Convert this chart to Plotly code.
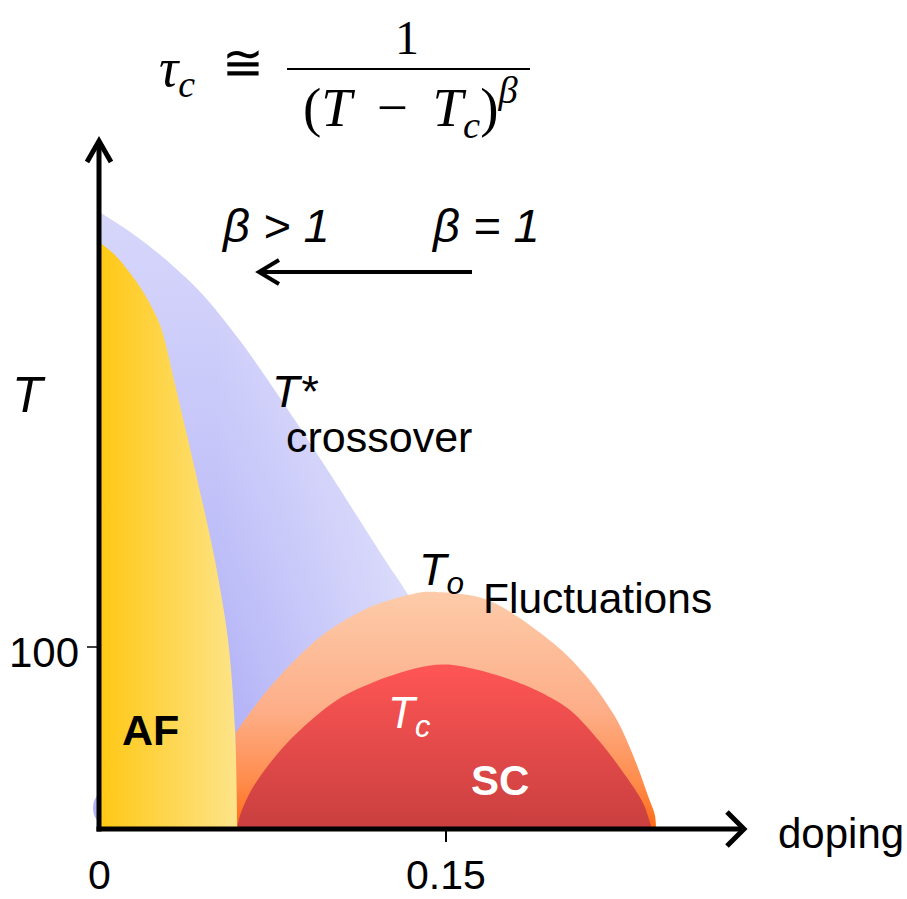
import plotly.graph_objects as go

# ---------------- data (doping, temperature) ----------------
af_doping = [0, 0.0069, 0.0134, 0.0199, 0.0264, 0.0329, 0.0415, 0.0501, 0.0558, 0.0588, 0.0597]
af_T = [322.5, 315.4, 305.5, 293.4, 276.9, 244.0, 197.3, 147.8, 103.8, 54.4, 0]

tstar_doping = [0, 0.0134, 0.0264, 0.0437, 0.0610, 0.0782, 0.0999, 0.1228, 0.1331, 0.1474, 0.1517]
tstar_T = [339, 328.0, 315.4, 295.1, 268.1, 236.8, 195.1, 149.5, 129.7, 98.4, 0]

blob_doping = [0, -0.0015, -0.0025, -0.0022, -0.0010, 0]
blob_T = [4, 6, 10, 15, 18, 20]

to_doping = [0.0590, 0.0739, 0.0955, 0.1172, 0.1388, 0.1440, 0.1677, 0.1963, 0.2110, 0.2239, 0.2317, 0.2380, 0.2403, 0.2408]
to_T = [52.7, 78, 105.5, 122, 130, 130.3, 126, 102.2, 83.5, 59.9, 37.9, 15.9, 7.7, 0]

tc_doping = [0.0597, 0.0610, 0.0666, 0.0813, 0.1029, 0.1245, 0.1418, 0.1530, 0.1746, 0.1906, 0.2036, 0.2166, 0.2274, 0.2352, 0.2390]
tc_T = [0, 7.7, 23.1, 47.3, 70.9, 83.5, 89.6, 90.1, 83.5, 75.3, 65.4, 47.8, 29.7, 14.3, 0]

x_tick_vals = [0, 0.15]
x_tick_text = ["0", "0.15"]
y_tick_vals = [100]
y_tick_text = ["100"]

# ---------------- layout geometry ----------------
W, H = 907, 899
X0, SX = 99, 2313.3     # pixel of doping 0, pixels per doping unit
Y0, SY = 829, 1.82      # pixel of T=0, pixels per kelvin


def PX(x):
    return x / W


def PY(y):
    return 1 - y / H


SANS = "Liberation Sans"
SERIF = "Liberation Serif"

fig = go.Figure()

# T* crossover region (blue), base horizontal gradient
fig.add_trace(go.Scatter(
    x=tstar_doping, y=tstar_T, mode="lines", line=dict(width=0, shape="spline", smoothing=0.9),
    fill="tozeroy",
    fillgradient=dict(type="horizontal", start=0.05, stop=0.14,
                      colorscale=[[0, "#AEAEF7"], [1, "#D8D8FB"]]),
    hoverinfo="skip", showlegend=False))
# lightening overlay toward the top
fig.add_trace(go.Scatter(
    x=tstar_doping, y=tstar_T, mode="lines", line=dict(width=0, shape="spline", smoothing=0.9),
    fill="tozeroy",
    fillgradient=dict(type="vertical", start=50, stop=340,
                      colorscale=[[0, "rgba(255,255,255,0)"], [1, "rgba(248,248,255,0.55)"]]),
    hoverinfo="skip", showlegend=False))
fig.add_trace(go.Scatter(
    x=blob_doping, y=blob_T, mode="lines", line=dict(width=0, shape="spline"),
    fill="toself", fillcolor="#B4B4F8", hoverinfo="skip", showlegend=False))

# To fluctuations dome (orange)
fig.add_trace(go.Scatter(
    x=to_doping, y=to_T, mode="lines", line=dict(width=0, shape="spline", smoothing=0.9),
    fill="tozeroy",
    fillgradient=dict(type="vertical", start=0, stop=130,
                      colorscale=[[0, "#FF6A14"], [0.2, "#FF8C4C"], [0.5, "#FDAE88"], [1, "#FDCBA9"]]),
    hoverinfo="skip", showlegend=False))

# Tc superconducting dome (red)
fig.add_trace(go.Scatter(
    x=tc_doping, y=tc_T, mode="lines", line=dict(width=0, shape="spline", smoothing=0.9),
    fill="tozeroy",
    fillgradient=dict(type="vertical", start=0, stop=90,
                      colorscale=[[0, "#C93F3F"], [1, "#FF5555"]]),
    hoverinfo="skip", showlegend=False))

# AF region (yellow)
fig.add_trace(go.Scatter(
    x=af_doping, y=af_T, mode="lines", line=dict(width=0, shape="spline", smoothing=0.9),
    fill="tozeroy",
    fillgradient=dict(type="horizontal", start=0, stop=0.06,
                      colorscale=[[0, "#FFC814"], [1, "#FDE48A"]]),
    hoverinfo="skip", showlegend=False))

shapes = []
LW = 5
# axes lines with arrow heads
shapes.append(dict(type="line", xref="paper", yref="paper",
                   x0=PX(X0), x1=PX(X0), y0=PY(Y0 + 2.5), y1=PY(142), line=dict(color="black", width=LW)))
shapes.append(dict(type="path", xref="paper", yref="paper",
                   path=f"M {PX(87)},{PY(162)} L {PX(X0)},{PY(141)} L {PX(111)},{PY(162)}",
                   line=dict(color="black", width=LW)))
shapes.append(dict(type="line", xref="paper", yref="paper",
                   x0=PX(X0 - 2.5), x1=PX(743), y0=PY(Y0), y1=PY(Y0), line=dict(color="black", width=LW)))
shapes.append(dict(type="path", xref="paper", yref="paper",
                   path=f"M {PX(727)},{PY(812)} L {PX(744)},{PY(Y0)} L {PX(727)},{PY(846)}",
                   line=dict(color="black", width=LW)))
# ticks
for v in x_tick_vals[1:]:
    shapes.append(dict(type="line", xref="x", yref="paper", x0=v, x1=v,
                       y0=PY(Y0), y1=PY(842), line=dict(color="black", width=2)))
for v in y_tick_vals:
    shapes.append(dict(type="line", xref="paper", yref="y", x0=PX(87), x1=PX(X0),
                       y0=v, y1=v, line=dict(color="black", width=1.5)))
# beta arrow
shapes.append(dict(type="line", xref="paper", yref="paper",
                   x0=PX(472), x1=PX(261), y0=PY(272), y1=PY(272), line=dict(color="black", width=4)))
shapes.append(dict(type="path", xref="paper", yref="paper",
                   path=f"M {PX(279)},{PY(260)} L {PX(259)},{PY(272)} L {PX(279)},{PY(284)}",
                   line=dict(color="black", width=4)))
# fraction bar
shapes.append(dict(type="line", xref="paper", yref="paper",
                   x0=PX(287), x1=PX(530), y0=PY(69), y1=PY(69), line=dict(color="black", width=2)))

ann = []


def text(t, x, y, size=40, color="black", family=SANS, xanchor="center", yanchor="middle"):
    ann.append(dict(text=t, x=PX(x), y=PY(y), xref="paper", yref="paper", showarrow=False,
                    xanchor=xanchor, yanchor=yanchor,
                    font=dict(size=size, color=color, family=family)))


SP = "&nbsp;\u2009"
# formula
text("<i>τ</i><sub><i>c</i></sub>", 157, 72, size=54, family=SERIF, xanchor="left")
text("≅", 243, 63, size=50, family=SERIF)
text("1", 407, 37, size=48, family=SERIF)
text(f"(<i>T</i>{SP}−{SP}<i>T</i><sub><i>c</i></sub>)<sup><i>β</i></sup>",
     410, 108, size=55, family=SERIF)

text("<i>β > 1</i>", 275, 225, size=47)
text("<i>β = 1</i>", 485, 225, size=47)
text("<i>T</i>", 29, 395, size=50)
text("<i>T*</i>", 270, 391, size=45, xanchor="left")
text("crossover", 284, 437, size=43, xanchor="left")
text("<i>T<sub>o</sub></i>", 417, 572, size=45, xanchor="left")
text("Fluctuations", 481, 598, size=42.5, xanchor="left")
text("<b>AF</b>", 150, 730, size=43)
text("<i>T<sub>c</sub></i>", 386, 716, size=44, color="white", xanchor="left")
text("<b>SC</b>", 500, 780, size=42, color="white")
text("doping", 776, 833, size=42, xanchor="left")

# tick labels (positioned through the data axes)
for v, t in zip(x_tick_vals, x_tick_text):
    ann.append(dict(text=t, x=v, y=PY(875), xref="x", yref="paper", showarrow=False,
                    xanchor="center", yanchor="middle", font=dict(size=41, family=SANS, color="black")))
for v, t in zip(y_tick_vals, y_tick_text):
    ann.append(dict(text=t, x=PX(81), y=v - 3, xref="paper", yref="y", showarrow=False,
                    xanchor="right", yanchor="middle", font=dict(size=42, family=SANS, color="black")))

fig.update_layout(
    width=W, height=H, margin=dict(l=0, r=0, t=0, b=0),
    paper_bgcolor="white", plot_bgcolor="white",
    xaxis=dict(range=[(0 - X0) / SX, (W - X0) / SX], visible=False, fixedrange=True),
    yaxis=dict(range=[(Y0 - H) / SY, Y0 / SY], visible=False, fixedrange=True),
    shapes=shapes, annotations=ann,
)

fig.write_html("out.html", config={"displayModeBar": False},
               post_script="document.body.style.margin='0px';document.body.style.overflow='hidden';")
